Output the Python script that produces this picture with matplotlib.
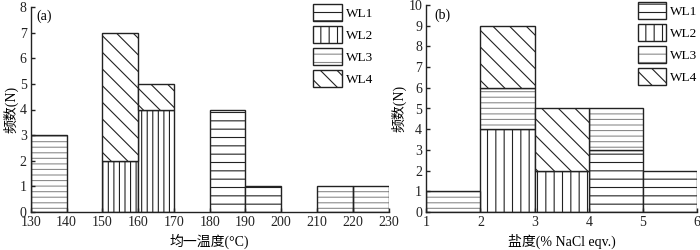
import numpy as np
import matplotlib
matplotlib.use("Agg")
import matplotlib.pyplot as plt
from matplotlib.patches import Patch

# DATA

# (a) homogeniseringstemperatur, vänsterkant för varje 10-gradersklass
temp_left = [130, 140, 150, 160, 170, 180, 190, 200, 210, 220]
temp_wl1 = [0, 0, 0, 0, 0, 4, 1, 0, 0, 0]
temp_wl2 = [0, 0, 2, 4, 0, 0, 0, 0, 0, 0]
temp_wl3 = [3, 0, 0, 0, 0, 0, 0, 0, 1, 1]
temp_wl4 = [0, 0, 5, 1, 0, 0, 0, 0, 0, 0]

# (b) salthalt, vänsterkant för varje klass
salt_left = [1, 2, 3, 4, 5]
salt_wl1 = [0, 0, 0, 3, 2]
salt_wl2 = [0, 4, 2, 0, 0]
salt_wl3 = [1, 2, 0, 2, 0]
salt_wl4 = [0, 3, 3, 0, 0]

series_names = ["WL1", "WL2", "WL3", "WL4"]

FONT = ["Liberation Serif", "Noto Sans CJK SC"]
plt.rcParams["font.family"] = FONT
plt.rcParams["font.size"] = 10
plt.rcParams["hatch.linewidth"] = 0.8

EDGE = "#222222"
DOT = "#8c8c8c"   # grå linjer som ersättning för prickad skraffering


# HJÄLPFUNKTIONER

def stacked_hist(ax, left, series, width, hatches):
    """Rita staplade klasser med skraffering, hoppa över tomma klasser."""
    left = np.array(left, dtype=float)
    bottom = np.zeros(len(left))
    for vals, hatch, name in zip(series, hatches, series_names):
        vals = np.array(vals, dtype=float)
        m = vals > 0
        if name == "WL3":
            # grå skraffering + svart kontur ovanpå
            ax.bar(left[m], vals[m], width, bottom=bottom[m], align="edge",
                   color="white", edgecolor=DOT, hatch=hatch, linewidth=0)
            ax.bar(left[m], vals[m], width, bottom=bottom[m], align="edge",
                   fill=False, edgecolor=EDGE, linewidth=1.0)
        else:
            ax.bar(left[m], vals[m], width, bottom=bottom[m], align="edge",
                   color="white", edgecolor=EDGE, hatch=hatch, linewidth=1.0)
        bottom += vals


def legend_handles():
    h1 = Patch(facecolor="white", edgecolor=EDGE, hatch="--", linewidth=1.0)
    h2 = Patch(facecolor="white", edgecolor=EDGE, hatch="||", linewidth=1.0)
    h3 = (Patch(facecolor="white", edgecolor=DOT, hatch="--", linewidth=0),
          Patch(fill=False, edgecolor=EDGE, linewidth=1.0))
    h4 = Patch(facecolor="white", edgecolor=EDGE, hatch="\\\\", linewidth=1.0)
    return [h1, h2, h3, h4]


def add_legend(ax, x0):
    ax.legend(legend_handles(), series_names, loc="upper left",
              bbox_to_anchor=(x0, 1.015), frameon=False, borderpad=0,
              borderaxespad=0, handlelength=2.15, handleheight=1.65,
              labelspacing=0.35, handletextpad=0.3, fontsize=9.5)


def style_axes(ax):
    for s in ["top", "right"]:
        ax.spines[s].set_visible(False)
    for s in ["left", "bottom"]:
        ax.spines[s].set_linewidth(1.0)
        ax.spines[s].set_color(EDGE)
    ax.tick_params(direction="in", length=3, width=1.0, labelsize=10,
                   colors=EDGE, pad=3)


# FIGUR

fig = plt.figure(figsize=(7.0, 2.5), dpi=100)
ax_a = fig.add_axes([0.044, 0.152, 0.511, 0.82])
ax_b = fig.add_axes([0.609, 0.152, 0.387, 0.828])

# (a)
stacked_hist(ax_a, temp_left, [temp_wl1, temp_wl2, temp_wl3, temp_wl4], 10,
             ["--", "|||", "---", "\\\\"])
ax_a.set_xlim(130, 230)
ax_a.set_ylim(0, 8)
ax_a.set_xticks(np.arange(130, 231, 10))
ax_a.set_yticks(np.arange(0, 9, 1))
ax_a.set_xlabel("均一温度(°C)", fontsize=10, labelpad=3)
ax_a.set_ylabel("频数(N)", fontsize=10, labelpad=1)
ax_a.text(0.015, 0.99, "(a)", transform=ax_a.transAxes, va="top", fontsize=10)
style_axes(ax_a)
add_legend(ax_a, 0.79)

# (b)
stacked_hist(ax_b, salt_left, [salt_wl1, salt_wl2, salt_wl3, salt_wl4], 1,
             ["--", "||", "---", "\\\\"])
ax_b.set_xlim(1, 6)
ax_b.set_ylim(0, 10)
ax_b.set_xticks(np.arange(1, 7, 1))
ax_b.set_yticks(np.arange(0, 11, 1))
ax_b.set_xlabel("盐度(% NaCl eqv.)", fontsize=10, labelpad=3)
ax_b.set_ylabel("频数(N)", fontsize=10, labelpad=1)
ax_b.text(0.03, 0.985, "(b)", transform=ax_b.transAxes, va="top", fontsize=10)
style_axes(ax_b)
add_legend(ax_b, 0.78)

fig.savefig("out.png", dpi=100)
